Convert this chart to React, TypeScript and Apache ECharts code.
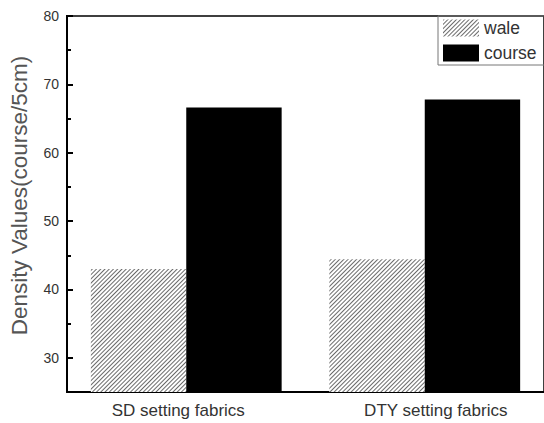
import React, { useEffect, useRef } from "react";
import * as echarts from "echarts";

const categories = ["SD setting fabrics", "DTY setting fabrics"];
const waleValues = [43.0, 44.4];
const courseValues = [66.6, 67.8];
const seriesNames = ["wale", "course"];
const yMin = 25;
const yMax = 80;
const majorStep = 10;
const minorStep = 5;

export default function App() {
  const ref = useRef<HTMLDivElement>(null);
  useEffect(() => {
    const chart = echarts.init(ref.current!, null, { renderer: "svg" });
    const hatch = {
      symbol: "rect",
      symbolSize: 1,
      dashArrayX: [1, 0],
      dashArrayY: [1, 2],
      rotation: -Math.PI / 4,
      color: "#6a6a6a",
    };
    const font = "Liberation Sans, Arial";
    const plotTop = 16;
    const plotH = 376;
    // second grid sharing the same scale, starting from the first major tick
    const majorMin = Math.ceil(yMin / majorStep) * majorStep;
    const plotH2 = (plotH * (yMax - majorMin)) / (yMax - yMin);
    chart.setOption({
      animation: false,
      backgroundColor: "#fff",
      grid: [
        {
          left: 66,
          top: plotTop,
          width: 480,
          height: plotH,
          show: true,
          borderColor: "#000",
          borderWidth: 1.5,
        },
        { left: 66, top: plotTop, width: 480, height: plotH2, show: false },
      ],
      legend: {
        left: 438,
        top: 16,
        orient: "vertical",
        icon: "rect",
        itemWidth: 36,
        itemHeight: 17,
        itemGap: 7,
        padding: [3, 20, 3, 5],
        borderColor: "#777",
        borderWidth: 1,
        textStyle: { fontSize: 17.5, color: "#333", fontFamily: font },
        data: seriesNames,
      },
      xAxis: [
        {
          type: "category",
          gridIndex: 0,
          data: [
            { value: categories[0], textStyle: { padding: [0, 16, 0, 0] } },
            { value: categories[1], textStyle: { padding: [0, 0, 0, 22] } },
          ],
          axisLine: { lineStyle: { color: "#000", width: 2 } },
          axisTick: { show: false },
          axisLabel: { fontSize: 17, color: "#333", margin: 10, fontFamily: font },
        },
        { type: "category", gridIndex: 1, data: categories, show: false },
      ],
      yAxis: [
        {
          type: "value",
          gridIndex: 0,
          min: yMin,
          max: yMax,
          interval: minorStep,
          name: "Density Values(course/5cm)",
          nameLocation: "middle",
          nameGap: 36,
          nameTextStyle: {
            fontSize: 22.5,
            color: "#555",
            fontFamily: font,
            padding: [0, 0, 0, 17],
          },
          axisLine: { show: true, lineStyle: { color: "#000", width: 2 } },
          axisTick: {
            show: true,
            inside: true,
            length: 4,
            lineStyle: { color: "#000", width: 2 },
          },
          splitLine: { show: false },
          axisLabel: {
            fontSize: 14,
            color: "#333",
            margin: 8,
            fontFamily: font,
            formatter: (v: number) => (v % majorStep === 0 ? String(v) : ""),
          },
        },
        {
          type: "value",
          gridIndex: 1,
          min: majorMin,
          max: yMax,
          interval: majorStep,
          axisLine: { show: false },
          axisTick: {
            show: true,
            inside: true,
            length: 7,
            lineStyle: { color: "#000", width: 2 },
          },
          splitLine: { show: false },
          axisLabel: { show: false },
        },
      ],
      series: [
        {
          name: seriesNames[0],
          type: "bar",
          data: waleValues,
          barWidth: "40%",
          barGap: "0%",
          itemStyle: { color: "#fff", decal: hatch },
        },
        {
          name: seriesNames[1],
          type: "bar",
          data: courseValues,
          barWidth: "40%",
          itemStyle: { color: "#000" },
        },
      ],
    });
    return () => chart.dispose();
  }, []);
  return (
    <div
      ref={ref}
      style={{ position: "fixed", left: 0, top: 0, width: 544, height: 423 }}
    />
  );
}
